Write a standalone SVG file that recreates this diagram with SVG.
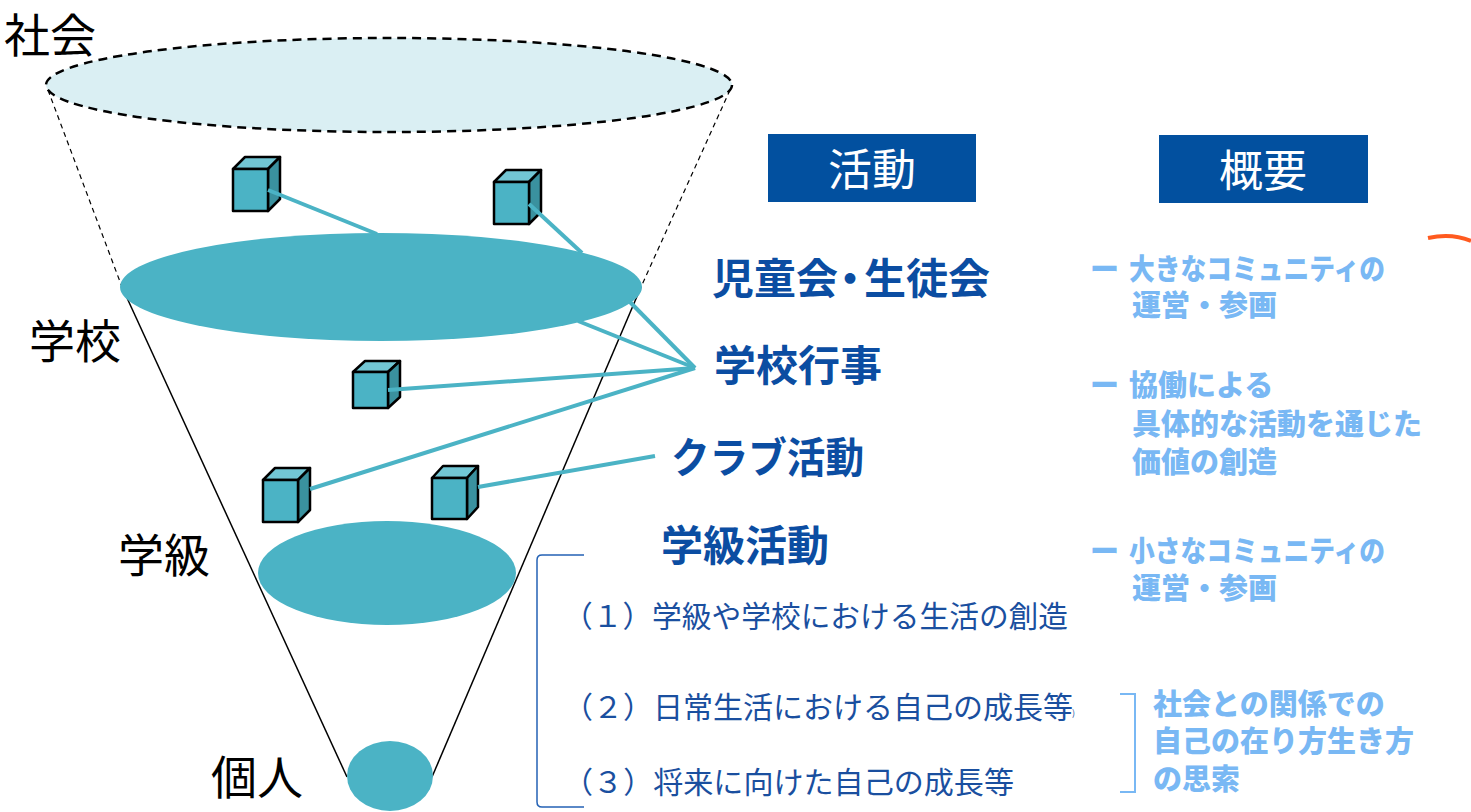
<svg xmlns="http://www.w3.org/2000/svg" width="1471" height="812" viewBox="0 0 1471 812">
<style>
text{font-family:"Noto Sans CJK JP","Noto Sans",sans-serif}
.lbl{font-size:46px;fill:#000}
.hd{font-size:44px;fill:#fff}
.act{font-size:42px;font-weight:700;fill:#0B4DA2}
.sum{font-size:29px;font-weight:900;fill:#79B8F4}
.num{font-size:30px;fill:#1A4F9F}
.cone{stroke:#000;stroke-width:1.5;fill:none}
.coned{stroke:#000;stroke-width:1.2;fill:none;stroke-dasharray:5 4}
.disk{fill:#4BB3C5}
.cf{fill:#4BB3C5;stroke:#000;stroke-width:2.5;stroke-linejoin:round}
.ct{fill:#72C6D4;stroke:#000;stroke-width:2.5;stroke-linejoin:round}
.cs{fill:#3A919F;stroke:#000;stroke-width:2.5;stroke-linejoin:round}
.conn{stroke:#4BB3C5;stroke-width:4;fill:none}
</style>
<rect width="1471" height="812" fill="#fff"/>

<g id="society">
<ellipse cx="389" cy="85" rx="343" ry="47" fill="#DAEFF3" stroke="#000" stroke-width="2.5" stroke-dasharray="9 6"/>
<text class="lbl" x="4" y="52" font-size="44">社会</text>
</g>

<g id="cone">
<line class="coned" x1="48" y1="90" x2="122" y2="287"/>
<line class="coned" x1="730" y1="90" x2="641" y2="287"/>
<line class="cone" x1="122" y1="287" x2="347" y2="777"/>
<line class="cone" x1="641" y1="287" x2="432" y2="777"/>
</g>

<g id="cube1">
<polygon class="ct" points="233,169 245,157 280,157 268,169"/>
<polygon class="cs" points="268,169 280,157 280,199 268,211"/>
<rect class="cf" x="233" y="169" width="35" height="42"/>
</g>
<g id="cube2">
<polygon class="ct" points="494,182 506,170 541,170 529,182"/>
<polygon class="cs" points="529,182 541,170 541,212 529,224"/>
<rect class="cf" x="494" y="182" width="35" height="42"/>
</g>
<g id="cube3">
<polygon class="ct" points="353,372 365,361 400,361 388,372"/>
<polygon class="cs" points="388,372 400,361 400,397 388,408"/>
<rect class="cf" x="353" y="372" width="35" height="36"/>
</g>
<g id="cube4">
<polygon class="ct" points="263,480 275,468 310,468 298,480"/>
<polygon class="cs" points="298,480 310,468 310,510 298,522"/>
<rect class="cf" x="263" y="480" width="35" height="42"/>
</g>
<g id="cube5">
<polygon class="ct" points="432,478 443,466 478,466 467,478"/>
<polygon class="cs" points="467,478 478,466 478,507 467,519"/>
<rect class="cf" x="432" y="478" width="35" height="41"/>
</g>

<g id="connectors">
<line class="conn" x1="268" y1="190" x2="377" y2="234"/>
<line class="conn" x1="529" y1="204" x2="582" y2="253"/>
<line class="conn" x1="578" y1="321" x2="695" y2="368"/>
<line class="conn" x1="628" y1="300" x2="695" y2="368"/>
<line class="conn" x1="388" y1="390" x2="695" y2="368"/>
<line class="conn" x1="310" y1="489" x2="695" y2="368"/>
<line class="conn" x1="478" y1="487" x2="655" y2="456"/>
</g>

<g id="school">
<ellipse class="disk" cx="381" cy="287" rx="261" ry="54"/>
<text class="lbl" x="29" y="358">学校</text>
</g>
<g id="class">
<ellipse class="disk" cx="387" cy="573" rx="129" ry="52"/>
<text class="lbl" x="118" y="572">学級</text>
</g>
<g id="individual">
<ellipse class="disk" cx="390" cy="776" rx="43" ry="35"/>
<text class="lbl" x="211" y="794">個人</text>
</g>

<g id="header-activity">
<rect x="768" y="134" width="208" height="68" fill="#02509F"/>
<text class="hd" x="872" y="186" text-anchor="middle">活動</text>
</g>
<g id="header-summary">
<rect x="1159" y="135" width="209" height="68" fill="#02509F"/>
<text class="hd" x="1263" y="187" text-anchor="middle">概要</text>
</g>

<g id="activities">
<text class="act" x="712" y="294" dx="0 0 0 -9 -7 0 0">児童会・生徒会</text>
<text class="act" x="714" y="381">学校行事</text>
<text class="act" x="671" y="473" textLength="193" lengthAdjust="spacingAndGlyphs">クラブ活動</text>
<text class="act" x="661" y="561">学級活動</text>
</g>

<g id="summaries">
<text class="sum" x="1090" y="280">ー</text>
<text class="sum" x="1129" y="280" textLength="256" lengthAdjust="spacingAndGlyphs">大きなコミュニティの</text>
<text class="sum" x="1132" y="316">運営・参画</text>
<text class="sum" x="1090" y="396">ー</text>
<text class="sum" x="1129" y="396">協働による</text>
<text class="sum" x="1132" y="435">具体的な活動を通じた</text>
<text class="sum" x="1132" y="473">価値の創造</text>
<text class="sum" x="1090" y="562">ー</text>
<text class="sum" x="1129" y="562" textLength="256" lengthAdjust="spacingAndGlyphs">小さなコミュニティの</text>
<text class="sum" x="1132" y="599">運営・参画</text>
</g>

<g id="class-items">
<path d="M584,555 L542,555 Q537,555 537,560 L537,802 Q537,807 542,807 L584,807" fill="none" stroke="#2462B5" stroke-width="1.5"/>
<text class="num" x="563" y="627" textLength="505" lengthAdjust="spacingAndGlyphs">（１）学級や学校における生活の創造</text>
<text class="num" x="563" y="718" textLength="510" lengthAdjust="spacingAndGlyphs">（２）日常生活における自己の成長等</text>
<text x="1072" y="716" font-size="9" fill="#1A4F9F">)</text>
<text class="num" x="563" y="793" textLength="451" lengthAdjust="spacingAndGlyphs">（３）将来に向けた自己の成長等</text>
</g>

<g id="reflection">
<path d="M1120,694 L1135,694 L1135,792 L1120,792" fill="none" stroke="#79B8F4" stroke-width="2"/>
<text class="sum" x="1153" y="715">社会との関係での</text>
<text class="sum" x="1153" y="752">自己の在り方生き方</text>
<text class="sum" x="1153" y="790">の思索</text>
</g>

<path id="orange-mark" d="M1428,238 Q1452,233 1471,241" fill="none" stroke="#FF5A1F" stroke-width="4"/>
</svg>
